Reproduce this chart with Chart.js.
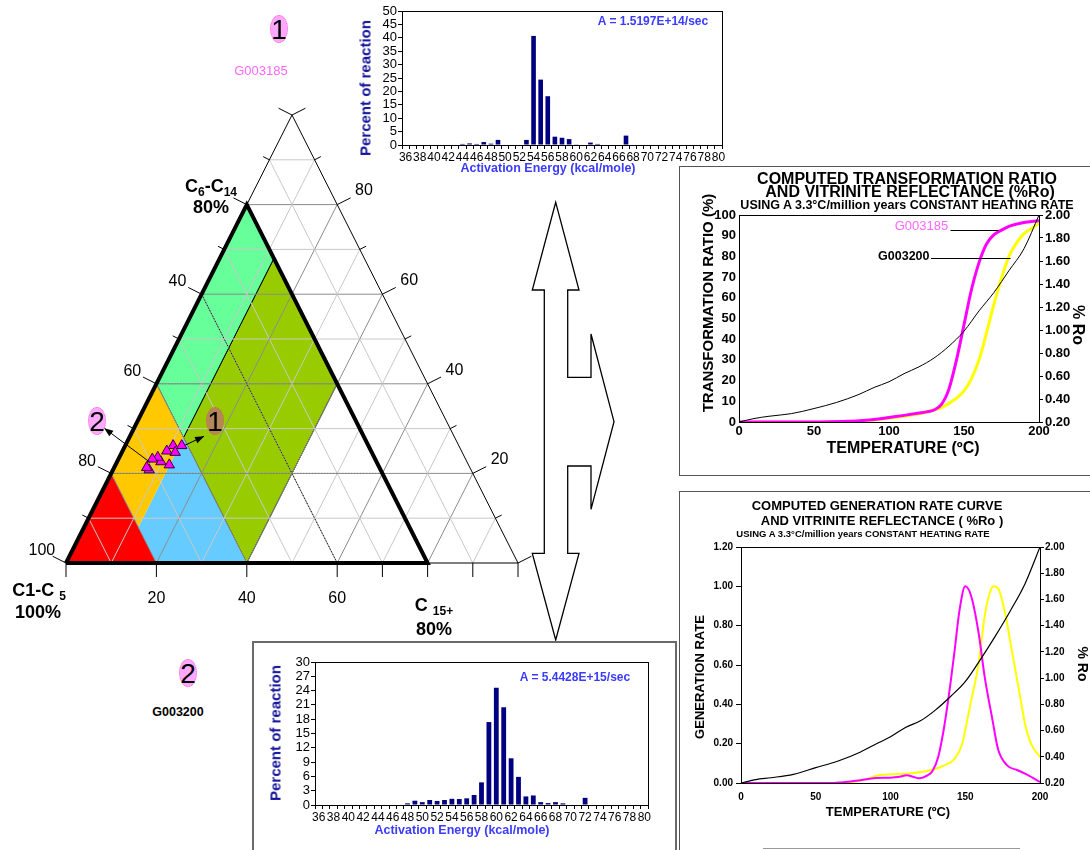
<!DOCTYPE html>
<html>
<head>
<meta charset="utf-8">
<script src="https://cdn.jsdelivr.net/npm/chart.js@4.4.1/dist/chart.umd.min.js"></script>
<style>
body { margin: 0; background: #fff; }
#page { position: relative; width: 1090px; height: 850px; overflow: hidden; font-family: Arial, "Liberation Sans", sans-serif; }
canvas { position: absolute; }
.t { position: absolute; white-space: nowrap; }
.box { position: absolute; box-sizing: border-box; }
.sub { font-size: 12px; position: relative; top: 4px; }
</style>
</head>
<body>
<div id="page">
  <svg style="position:absolute;left:0;top:0" width="1090" height="850">
    <polygon points="555.7,202.3 579,290 567.7,290 567.7,377.3 591,377.3 591,334 614,421.7 591,509.3 591,466 567.7,466 567.7,553.3 579,553.3 555.7,640 532.3,553.3 544.3,553.3 544.3,290 532.3,290"
      fill="#fff" stroke="#000" stroke-width="1.3" stroke-linejoin="miter"/>
    <line x1="763" y1="848.5" x2="1020" y2="848.5" stroke="#999" stroke-width="1"/>
  </svg>
  <div class="box" style="left:679px;top:166px;width:430px;height:310px;border:1px solid #555"></div>
  <div class="box" style="left:679px;top:491px;width:430px;height:400px;border:1px solid #555"></div>
  <div class="box" style="left:252px;top:641px;width:425px;height:260px;border:2px solid #6a6a6a"></div>

  <canvas id="tern" width="560" height="650" style="left:0;top:0"></canvas>
  <canvas id="hist1" width="390" height="180" style="left:345px;top:0"></canvas>
  <canvas id="hist2" width="412" height="200" style="left:258px;top:644px"></canvas>
  <canvas id="tr" width="410" height="307" style="left:680px;top:167px"></canvas>
  <canvas id="gen" width="410" height="358" style="left:680px;top:492px"></canvas>
</div>
<script>
const FONT = 'Arial, "Liberation Sans", sans-serif';
Chart.defaults.font.family = FONT;
Chart.defaults.color = '#000';

// ---- activation energy distributions (kcal/mole, % of reaction)
const energyKcal = [36,37,38,39,40,41,42,43,44,45,46,47,48,49,50,51,52,53,54,55,56,57,58,
  59,60,61,62,63,64,65,66,67,68,69,70,71,72,73,74,75,76,77,78,79,80];
const pctG003185 = [0,0,0,0,0,0,0,0,0.4,0.6,0.4,1.1,0.5,1.9,0,0,0,1.9,40.7,24.4,18.2,3.1,2.7,
  2.2,0.25,0,0.9,0.4,0,0,0,3.5,0,0,0,0,0,0,0,0,0,0,0,0,0];
const pctG003200 = [0,0,0,0,0,0,0,0,0,0,0,0,0.35,0.9,0.6,1.05,0.85,1.05,1.3,1.25,1.4,2.1,4.75,
  17.4,24.6,20.5,9.8,5.9,1.8,2.0,0.6,0.4,0.6,0.35,0,0,1.5,0,0,0,0,0,0,0,0];

// ---- transformation ratio (%) vs temperature (C)
const trTemp = [0,10,20,30,40,50,60,70,80,90,100,110,120,125,130,135,140,145,150,155,160,165,170,175,180,185,190,195,200];
const trG003185 = [0,0,0,0,0,0,0.1,0.3,0.6,1.2,2.2,3.2,4.3,4.9,5.8,8.5,16,30,47,64,77,86,90.5,92.7,94.5,95.6,96.4,96.9,97.2];
const trG003200 = [0,0,0,0,0,0,0,0,0.3,1.0,1.8,2.8,4.0,4.8,5.8,7,9,11.5,15,21,30,43,57,69.5,80,86.5,91,93.5,96];

// ---- vitrinite reflectance (%Ro) vs temperature
const roTemp = [0,10,20,35,50,65,80,90,100,110,120,130,140,150,160,170,180,190,200];
const roTop = [0.20,0.23,0.25,0.273,0.317,0.37,0.44,0.50,0.55,0.62,0.68,0.756,0.86,0.99,1.166,1.327,1.517,1.707,2.0];
const roBottom = [0.2,0.226,0.24,0.266,0.317,0.368,0.437,0.496,0.552,0.624,0.674,0.756,0.858,0.973,1.139,1.318,1.51,1.72,2.0];

// ---- generation rate vs temperature
const genTempG003185 = [0,10,20,30,40,50,60,70,80,90,100,105,111,115,119,125,128,132,136,140,143,146,150,154,159,163,168,172,178,185,190,195,200];
const genG003185 = [0,0,0,0,0,0,0,0.005,0.014,0.025,0.027,0.03,0.039,0.032,0.024,0.04,0.06,0.135,0.29,0.5,0.68,0.87,1.0,0.95,0.76,0.54,0.33,0.17,0.09,0.065,0.048,0.027,0.005];
const genTempG003200 = [0,10,20,30,40,50,60,70,74,83,92,101,114,127,136,143,148,150,154,159,163,167,169,172,177,181,186,190,194,200];
const genG003200 = [0,0,0,0,0,0,0,0,0.003,0.017,0.039,0.044,0.05,0.065,0.09,0.124,0.2,0.27,0.42,0.61,0.85,0.98,1.0,0.99,0.85,0.68,0.47,0.30,0.2,0.133];

// ---- ternary diagram: samples as C15+ % and C6-C14 % (C1-C5 is the rest)
const sampleC15 = [12.5,10.6,11.8,9.8,9.7,8.5,7.5,11.9,8.0,7.2];
const sampleC6to14 = [26.2,26.2,24.7,25.0,22.6,23.6,23.2,21.9,20.8,21.3];
const gridSteps = [10,20,30,40,50,60,70,80,90];
const edgeTicks = [0,10,20,30,40,50,60,70,80,90,100];
const leftLabels = [0,20,40,60];
const rightLabels = [20,40,60,80];
const bottomTicks = [0,20,40,60,70,80,90,100];
const bottomLabels = [20,40,60];
// fields, corners given as [C15+, C6-C14]
const ternFields = [
  {color: '#FF0000', pts: [[0,0],[20,0],[0,20]]},
  {color: '#FFC800', pts: [[0,20],[0,40],[12,28],[12,8]]},
  {color: '#66CCFF', pts: [[12,8],[12,28],[40,0],[20,0]]},
  {color: '#66FF99', pts: [[0,40],[0,80],[12,68],[12,28]], edge: '#000'},
  {color: '#99CC00', pts: [[12,28],[12,68],[40,40],[40,0]], edge: '#000'}
];
const sampleArrows = [
  {from: [7.3,22.5], to: [-6.6,30.1]},
  {from: [13.2,26.3], to: [16.4,28.3]}
];

const page = document.getElementById('page');
function addText(html, cx, cy, font, color, rot) {
  const d = document.createElement('div');
  d.className = 't';
  d.innerHTML = html;
  d.style.left = cx + 'px';
  d.style.top = cy + 'px';
  d.style.font = font + ' ' + FONT;
  d.style.color = color || '#000';
  d.style.transform = 'translate(-50%,-50%)' + (rot ? ' rotate(' + rot + 'deg)' : '');
  page.appendChild(d);
}
function addBadge(num, cx, cy, fill, stroke) {
  const d = document.createElement('div');
  d.style.cssText = 'position:absolute;box-sizing:border-box;border-radius:50%;width:18px;height:28px;' +
    'left:' + (cx - 9) + 'px;top:' + (cy - 14) + 'px;background:' + fill + ';border:1px dotted ' + stroke;
  page.appendChild(d);
  addText(num, cx, cy + 1, '28px/1', '#000');
}

const framePlugin = {
  id: 'frame',
  afterDraw(chart) {
    const {ctx, chartArea: a} = chart;
    ctx.save();
    ctx.strokeStyle = '#000';
    ctx.lineWidth = 1;
    ctx.strokeRect(Math.round(a.left) + 0.5, Math.round(a.top) + 0.5, Math.round(a.width), Math.round(a.height));
    ctx.restore();
  }
};

// ---------------- ternary
const toXY = (a, b) => ({x: a + b / 2, y: b});
function ternLine(pts, color, width, dash, order) {
  return {data: pts.map(p => toXY(p[0], p[1])), showLine: true, fill: false, borderColor: color,
    borderWidth: width, borderDash: dash || [], pointRadius: 0, clip: false, order: order};
}
const ternSets = [];
ternFields.forEach(f => ternSets.push({
  data: f.pts.concat([f.pts[0]]).map(p => toXY(p[0], p[1])),
  showLine: true, fill: 'shape', backgroundColor: f.color,
  borderColor: f.edge || 'rgba(0,0,0,0)', borderWidth: f.edge ? 1 : 0,
  pointRadius: 0, clip: false, order: 100
}));
gridSteps.forEach(k => {
  const col = k % 20 === 0 ? '#8c8c8c' : '#c8c8c8';
  ternSets.push(ternLine([[0,k],[100-k,k]], col, 1, null, 50));
  ternSets.push(ternLine([[k,0],[k,100-k]], col, 1, null, 50));
  ternSets.push(ternLine([[0,100-k],[100-k,0]], col, 1, null, 50));
});
ternSets.push(ternLine([[0,20],[60,20]], '#777', 1, [1,2], 40));
ternSets.push(ternLine([[0,40],[40,40]], '#777', 1, [1,2], 40));
ternSets.push(ternLine([[0,60],[60,0]], '#000', 1, [1,2], 40));
ternSets.push(ternLine([[0,0],[100,0],[0,100],[0,0]], '#000', 1, null, 30));
ternSets.push(ternLine([[0,0],[80,0],[0,80],[0,0]], '#000', 4, null, 20));
ternSets.push({
  data: sampleC15.map((a, i) => toXY(a, sampleC6to14[i])),
  showLine: false, pointStyle: 'triangle', pointRadius: 6,
  backgroundColor: '#FF00FF', borderColor: '#3a003a', borderWidth: 1, clip: false, order: 0
});

const ternDecor = {
  id: 'ternDecor',
  afterDatasetsDraw(chart) {
    const {ctx, scales: {x, y}} = chart;
    const P = (a, b) => [x.getPixelForValue(a + b / 2), y.getPixelForValue(b)];
    const [x0, y0] = P(0, 0), [x1, y1] = P(0, 100), [x2, y2] = P(100, 0);
    let dx = x1 - x0, dy = y1 - y0, len = Math.hypot(dx, dy);
    const nL = [dy / len, -dx / len];
    dx = x1 - x2; dy = y1 - y2; len = Math.hypot(dx, dy);
    const nR = [-dy / len, dx / len];
    const seg = (ax, ay, bx, by) => { ctx.beginPath(); ctx.moveTo(ax, ay); ctx.lineTo(bx, by); ctx.stroke(); };
    ctx.save();
    ctx.strokeStyle = '#000';
    ctx.fillStyle = '#000';
    ctx.lineWidth = 1;
    ctx.font = '16px ' + FONT;
    ctx.textAlign = 'center';
    ctx.textBaseline = 'middle';
    edgeTicks.forEach(b => {
      const L = b % 20 === 0 ? 15 : 7;
      let [px, py] = P(0, b);
      seg(px, py, px + nL[0] * L, py + nL[1] * L);
      if (leftLabels.includes(b)) ctx.fillText(String(100 - b), px + nL[0] * 27, py + nL[1] * 27);
      [px, py] = P(100 - b, b);
      seg(px, py, px + nR[0] * L, py + nR[1] * L);
      if (rightLabels.includes(b)) ctx.fillText(String(b), px + nR[0] * 30, py + nR[1] * 30);
    });
    bottomTicks.forEach(a => {
      const [px, py] = P(a, 0);
      seg(px, py, px, py + 14);
      if (bottomLabels.includes(a)) ctx.fillText(String(a), px, py + 36);
    });
    sampleArrows.forEach(ar => {
      const [ax, ay] = P(ar.from[0], ar.from[1]);
      const [bx, by] = P(ar.to[0], ar.to[1]);
      seg(ax, ay, bx, by);
      const ang = Math.atan2(by - ay, bx - ax);
      ctx.beginPath();
      ctx.moveTo(bx, by);
      ctx.lineTo(bx - 9 * Math.cos(ang) + 3.5 * Math.sin(ang), by - 9 * Math.sin(ang) - 3.5 * Math.cos(ang));
      ctx.lineTo(bx - 9 * Math.cos(ang) - 3.5 * Math.sin(ang), by - 9 * Math.sin(ang) + 3.5 * Math.cos(ang));
      ctx.closePath();
      ctx.fill();
    });
    ctx.restore();
  }
};

new Chart(document.getElementById('tern'), {
  type: 'scatter',
  data: {datasets: ternSets},
  options: {
    responsive: false, animation: false, events: [],
    layout: {padding: {left: 66, right: 42, top: 115, bottom: 87}},
    scales: {
      x: {type: 'linear', min: 0, max: 100, display: false},
      y: {type: 'linear', min: 0, max: 100, display: false}
    },
    plugins: {legend: {display: false}, tooltip: {enabled: false}}
  },
  plugins: [ternDecor]
});

// ---------------- histograms
function histChart(id, values, yMax, yStep, pad, yWidth, xHeight) {
  return new Chart(document.getElementById(id), {
    type: 'bar',
    data: {labels: energyKcal, datasets: [{data: values, backgroundColor: '#000080', barPercentage: 0.65, categoryPercentage: 1}]},
    options: {
      responsive: false, animation: false, events: [],
      layout: {padding: pad},
      scales: {
        x: {
          grid: {display: true, drawOnChartArea: false, tickLength: 4, color: '#000'},
          border: {color: '#000'},
          ticks: {autoSkip: false, maxRotation: 0, minRotation: 0, padding: 1, font: {size: 12},
            callback: (v, i) => energyKcal[i] % 2 === 0 ? String(energyKcal[i]) : ''},
          afterFit: s => { s.height = xHeight; }
        },
        y: {
          min: 0, max: yMax,
          ticks: {stepSize: yStep, autoSkip: false, padding: 1, font: {size: 13}},
          grid: {drawOnChartArea: false, tickLength: 4, color: '#000'},
          border: {color: '#000'},
          afterFit: s => { s.width = yWidth; }
        }
      },
      plugins: {legend: {display: false}, tooltip: {enabled: false}}
    },
    plugins: [framePlugin]
  });
}
histChart('hist1', pctG003185, 50, 5, {left: 0, right: 13, top: 11, bottom: 0}, 57, 35);
histChart('hist2', pctG003200, 30, 3, {left: 0, right: 22, top: 18, bottom: 0}, 57, 39);

// ---------------- line charts
const pts = (xs, ys) => xs.map((t, i) => ({x: t, y: ys[i]}));

const trNotes = [
  {text: 'G003185', font: '13px ' + FONT, color: '#FF66FF', textT: 139.5, textV: 94.6, from: 141, to: 173, lineV: 92.8},
  {text: 'G003200', font: 'bold 12.5px ' + FONT, color: '#000', textT: 127, textV: 79.8, from: 128, to: 181, lineV: 79.2}
];
const trNotesPlugin = {
  id: 'trNotes',
  afterDatasetsDraw(chart) {
    const {ctx, scales: {x, y}} = chart;
    ctx.save();
    trNotes.forEach(n => {
      ctx.strokeStyle = '#000';
      ctx.lineWidth = 1;
      const ly = Math.round(y.getPixelForValue(n.lineV)) + 0.5;
      ctx.beginPath();
      ctx.moveTo(x.getPixelForValue(n.from), ly);
      ctx.lineTo(x.getPixelForValue(n.to), ly);
      ctx.stroke();
      ctx.font = n.font;
      ctx.fillStyle = n.color;
      ctx.textAlign = 'right';
      ctx.textBaseline = 'middle';
      ctx.fillText(n.text, x.getPixelForValue(n.textT), y.getPixelForValue(n.textV));
    });
    ctx.restore();
  }
};

function lineChart(id, datasets, cfg, extraPlugins) {
  return new Chart(document.getElementById(id), {
    type: 'line',
    data: {datasets: datasets},
    options: {
      responsive: false, animation: false, events: [],
      elements: {point: {radius: 0}, line: {cubicInterpolationMode: 'monotone'}},
      layout: {padding: {top: cfg.top, left: 0, right: 0, bottom: 0}},
      scales: {
        x: {
          type: 'linear', min: 0, max: 200,
          ticks: {stepSize: 50, padding: cfg.xPad, font: {size: cfg.fs, weight: 'bold'}},
          grid: {display: false}, border: {color: '#000'},
          afterFit: s => { s.height = cfg.xH; }
        },
        y: {
          position: 'left', min: 0, max: cfg.yMax,
          ticks: {stepSize: cfg.yStep, autoSkip: false, padding: 3, font: {size: cfg.fs, weight: 'bold'}, callback: cfg.yFmt},
          grid: {display: cfg.yTick > 0, drawOnChartArea: false, tickLength: cfg.yTick, color: '#000'},
          border: {color: '#000'},
          afterFit: s => { s.width = cfg.yW; }
        },
        y1: {
          position: 'right', min: 0.2, max: 2.0,
          ticks: {stepSize: 0.2, autoSkip: false, padding: cfg.y1Pad, font: {size: cfg.fs, weight: 'bold'}, callback: v => v.toFixed(2)},
          grid: {drawOnChartArea: false, tickLength: 4, color: '#000'},
          border: {color: '#000'},
          afterFit: s => { s.width = cfg.y1W; }
        }
      },
      plugins: {legend: {display: false}, tooltip: {enabled: false}}
    },
    plugins: [framePlugin].concat(extraPlugins || [])
  });
}

lineChart('tr', [
  {data: pts(roTemp, roTop), borderColor: '#000', borderWidth: 1, yAxisID: 'y1', order: 0},
  {data: pts(trTemp, trG003185), borderColor: '#FF00FF', borderWidth: 3, yAxisID: 'y', order: 1},
  {data: pts(trTemp, trG003200), borderColor: '#FFFF00', borderWidth: 3, yAxisID: 'y', order: 2}
], {top: 48, xH: 52, yW: 59, y1W: 51, yMax: 100, yStep: 10, yTick: 0, fs: 13, xPad: -6, y1Pad: 2,
    yFmt: v => String(v)}, [trNotesPlugin]);

lineChart('gen', [
  {data: pts(roTemp, roBottom), borderColor: '#000', borderWidth: 1.2, yAxisID: 'y1', order: 0},
  {data: pts(genTempG003185, genG003185), borderColor: '#FF00FF', borderWidth: 2, yAxisID: 'y', order: 1},
  {data: pts(genTempG003200, genG003200), borderColor: '#FFFF00', borderWidth: 2, yAxisID: 'y', order: 2}
], {top: 55, xH: 67, yW: 61, y1W: 50, yMax: 1.2, yStep: 0.2, yTick: 5, fs: 10, xPad: 0, y1Pad: 1,
    yFmt: v => v.toFixed(2)});

// ---------------- text
const blue = '#3b3bff';
addText('Percent of reaction', 365, 88, 'bold 15px/1', '#14149a', -90);
addText('Activation Energy (kcal/mole)', 548, 168, 'bold 12.5px/1', blue);
addText('A = 1.5197E+14/sec', 653, 21, 'bold 12px/1', blue);
addText('Percent of reaction', 275, 733, 'bold 15px/1', '#14149a', -90);
addText('Activation Energy (kcal/mole)', 462, 830, 'bold 12.5px/1', blue);
addText('A = 5.4428E+15/sec', 575, 677, 'bold 12px/1', blue);

addText('COMPUTED TRANSFORMATION RATIO', 907, 179, 'bold 16px/1');
addText('AND VITRINITE REFLECTANCE (%Ro)', 910, 192, 'bold 16px/1');
addText('USING A 3.3°C/million years CONSTANT HEATING RATE', 907, 205, 'bold 12.5px/1');
addText('TRANSFORMATION RATIO (%)', 707, 303, 'bold 15px/1', '#000', -90);
addText('% Ro', 1078, 325, 'bold 16px/1', '#000', 90);
addText('TEMPERATURE (ºC)', 903, 448, 'bold 16px/1');

addText('COMPUTED GENERATION RATE CURVE', 877, 505, 'bold 13px/1');
addText('AND VITRINITE REFLECTANCE ( %Ro )', 882, 520, 'bold 13px/1');
addText('USING A 3.3°C/million years CONSTANT HEATING RATE', 863, 534, 'bold 9.5px/1');
addText('GENERATION RATE', 699, 677, 'bold 13px/1', '#000', -90);
addText('% Ro', 1083, 664, 'bold 14px/1', '#000', 90);
addText('TEMPERATURE (ºC)', 888, 811, 'bold 13px/1');

addText('C<span class="sub">6</span>-C<span class="sub">14</span>', 211, 186, 'bold 18px/1');
addText('80%', 211, 207, 'bold 18px/1');
addText('C1-C <span class="sub">5</span>', 39, 590, 'bold 18px/1');
addText('100%', 38, 612, 'bold 18px/1');
addText('C <span class="sub">15+</span>', 434, 605, 'bold 18px/1');
addText('80%', 434, 629, 'bold 18px/1');

addBadge('1', 279, 29, '#FFA8FF', '#FF66CC');
addText('G003185', 261, 70, '13px/1', '#FF66FF');
addBadge('2', 188, 673, '#FFA8FF', '#FF66CC');
addText('G003200', 178, 712, 'bold 12.5px/1');
addBadge('2', 97, 421, '#FFA8FF', '#FF66CC');
addBadge('1', 215, 421, '#B4875A', '#CC7733');
</script>
</body>
</html>
